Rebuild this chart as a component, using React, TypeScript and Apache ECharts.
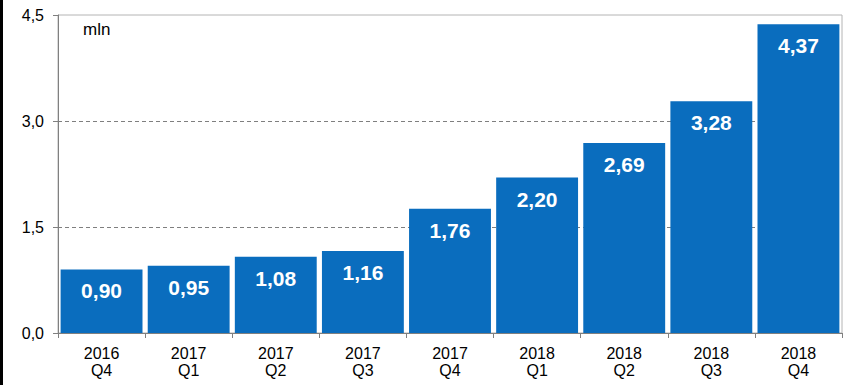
import React, { useEffect, useRef } from "react";
import * as echarts from "echarts";

const categories = ["2016\nQ4", "2017\nQ1", "2017\nQ2", "2017\nQ3", "2017\nQ4", "2018\nQ1", "2018\nQ2", "2018\nQ3", "2018\nQ4"];
const values = [0.9, 0.95, 1.08, 1.16, 1.76, 2.2, 2.69, 3.28, 4.37];
const yMin = 0;
const yMax = 4.5;
const yInterval = 1.5;
const unitLabel = "mln";

const fmt = (v: number, d: number) => v.toFixed(d).replace(".", ",");
const FONT = "Liberation Sans, Arial, sans-serif";

export default function App() {
  const ref = useRef<HTMLDivElement>(null);
  useEffect(() => {
    if (!ref.current) return;
    const chart = echarts.init(ref.current, undefined, { renderer: "svg" });
    chart.setOption({
      animation: false,
      backgroundColor: "#ffffff",
      textStyle: { fontFamily: FONT },
      grid: {
        left: 58,
        right: 24,
        top: 15,
        bottom: 52,
        show: true,
        borderColor: "#b4b4b4",
        borderWidth: 1,
        backgroundColor: "transparent",
      },
      xAxis: {
        type: "category",
        data: categories,
        axisLine: { show: true, lineStyle: { color: "#808080", width: 1 } },
        axisTick: { show: true, alignWithLabel: false, length: 5, lineStyle: { color: "#808080" } },
        axisLabel: {
          color: "#000",
          fontSize: 16,
          lineHeight: 17,
          margin: 12,
          fontFamily: FONT,
        },
      },
      yAxis: {
        type: "value",
        min: yMin,
        max: yMax,
        interval: yInterval,
        axisLine: { show: true, lineStyle: { color: "#808080", width: 1 } },
        axisTick: { show: true, length: 5, lineStyle: { color: "#808080" } },
        axisLabel: {
          color: "#000",
          fontSize: 16,
          margin: 14,
          formatter: (v: number) => fmt(v, 1),
          fontFamily: FONT,
        },
        splitLine: {
          show: true,
          showMinLine: false,
          showMaxLine: false,
          lineStyle: { color: "#7f7f7f", type: [4, 3], width: 1 },
        },
      },
      series: [
        {
          type: "bar",
          data: values,
          barCategoryGap: "6%",
          itemStyle: { color: "#0A6DBE" },
          z: 3,
          label: {
            show: true,
            position: "insideTop",
            distance: 11,
            color: "#ffffff",
            fontSize: 21,
            fontWeight: "bold",
            fontFamily: FONT,
            formatter: (p: any) => fmt(p.value, 2),
          },
        },
      ],
      graphic: [
        {
          type: "text",
          left: 83,
          top: 21,
          style: {
            text: unitLabel,
            fontSize: 17,
            fill: "#000",
            fontFamily: FONT,
          },
        },
        {
          type: "rect",
          left: 0,
          top: 0,
          shape: { width: 3, height: 385 },
          style: { fill: "#000" },
        },
      ],
    });
    return () => chart.dispose();
  }, []);
  return (
    <div
      ref={ref}
      style={{ position: "fixed", left: 0, top: 0, width: 866, height: 385 }}
    />
  );
}
